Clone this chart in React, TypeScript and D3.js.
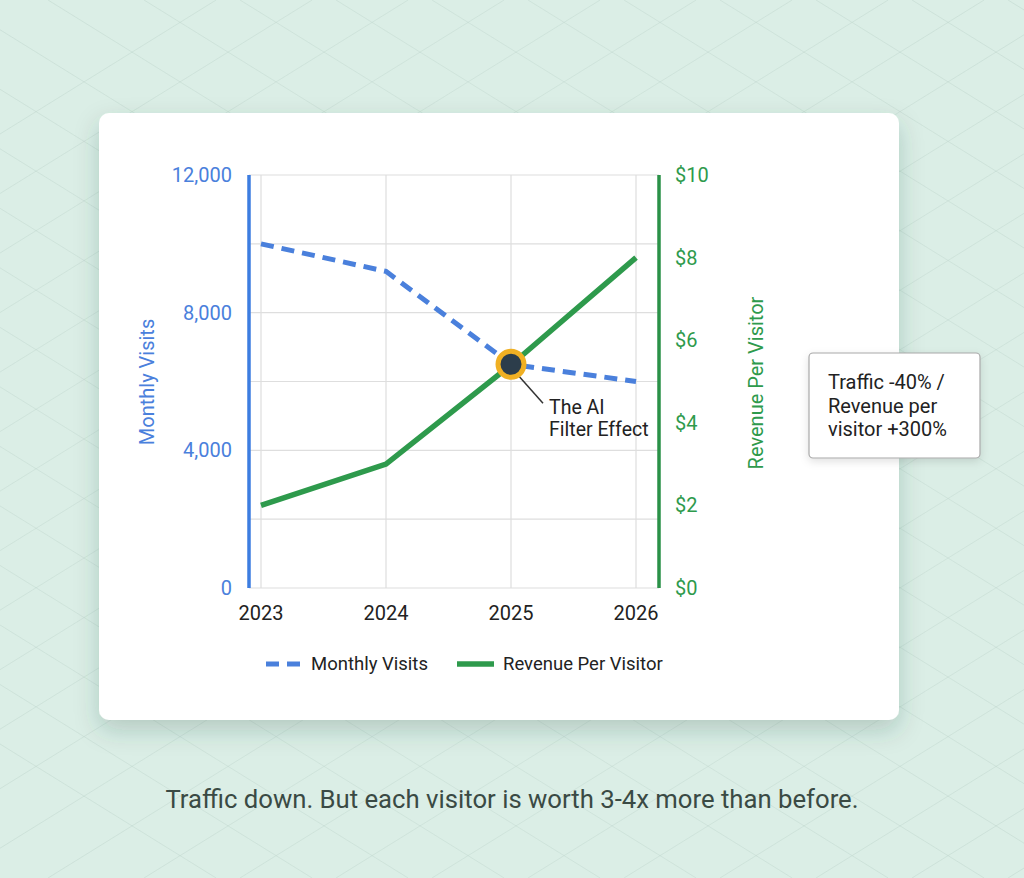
import * as d3 from "d3";

const years = ["2023", "2024", "2025", "2026"];
const monthlyVisits = [10000, 9200, 6500, 6000];
const revenuePerVisitor = [2, 3, 5.4, 8];
const visitTicks = [0, 4000, 8000, 12000];
const visitGrid = [0, 2000, 4000, 6000, 8000, 10000, 12000];
const revenueTicks = [0, 2, 4, 6, 8, 10];
const calloutLines = ["Traffic -40% /", "Revenue per", "visitor +300%"];
const annotationLines = ["The AI", "Filter Effect"];
const annotationYear = "2025";

const W = 1024;
const H = 878;
const FONT = "Roboto, 'Noto Sans', sans-serif";
const BLUE = "#4a80dc";
const BLUE_AXIS = "#3d7de0";
const GREEN = "#2e9a4c";
const GREEN_AXIS = "#2a9147";

const plot = { left: 249, right: 659, top: 175, bottom: 588 };

const x = d3.scalePoint<string>().domain(years).range([261, 636]);
const yLeft = d3.scaleLinear().domain([0, 12000]).range([plot.bottom, plot.top]);
const yRight = d3.scaleLinear().domain([0, 10]).range([plot.bottom, plot.top]);

const visitsLine = d3
  .line<number>()
  .x((_, i) => x(years[i]) as number)
  .y((d) => yLeft(d));
const revenueLine = d3
  .line<number>()
  .x((_, i) => x(years[i]) as number)
  .y((d) => yRight(d));

// faint diamond lattice in the background
const lattice: string[] = [];
for (let c = -1200; c < 1600; c += 96) {
  lattice.push(`M${c},0L${c + H / 0.62},${H}`);
  lattice.push(`M${c},${H}L${c + H / 0.62},0`);
}

const App = () => {
  const ai = years.indexOf(annotationYear);
  const cx = x(annotationYear) as number;
  const cy = yLeft(monthlyVisits[ai]);

  return (
    <div style={{ position: "absolute", left: 0, top: 0 }}>
      <svg width={W} height={H} style={{ display: "block", fontFamily: FONT }}>
        <defs>
          <filter id="cardShadow" x="-10%" y="-10%" width="120%" height="130%">
            <feDropShadow dx="0" dy="10" stdDeviation="12" floodColor="#2a4a40" floodOpacity="0.22" />
          </filter>
          <filter id="boxShadow" x="-10%" y="-10%" width="130%" height="140%">
            <feDropShadow dx="0" dy="3" stdDeviation="4" floodColor="#000" floodOpacity="0.12" />
          </filter>
          <radialGradient id="bgFade" cx="50%" cy="50%" r="70%">
            <stop offset="0%" stopColor="#fff" stopOpacity="0.5" />
            <stop offset="100%" stopColor="#fff" stopOpacity="0.9" />
          </radialGradient>
          <mask id="latticeMask">
            <rect width={W} height={H} fill="url(#bgFade)" />
          </mask>
        </defs>

        <rect width={W} height={H} fill="#dbeee6" />
        <g mask="url(#latticeMask)">
          {lattice.map((d, i) => (
            <path key={i} d={d} stroke="#a9c4ba" strokeWidth={0.8} opacity={0.4} fill="none" />
          ))}
        </g>

        {/* card */}
        <rect x={99} y={113} width={800} height={607} rx={10} fill="#fff" filter="url(#cardShadow)" />

        {/* grid */}
        {visitGrid.map((v) => (
          <line key={v} x1={plot.left} x2={plot.right} y1={yLeft(v)} y2={yLeft(v)} stroke="#dedede" strokeWidth={1.2} />
        ))}
        {years.map((yr) => (
          <line key={yr} x1={x(yr)} x2={x(yr)} y1={plot.top} y2={plot.bottom} stroke="#dedede" strokeWidth={1.2} />
        ))}

        {/* axes */}
        <line x1={plot.left} x2={plot.left} y1={plot.top} y2={plot.bottom} stroke={BLUE_AXIS} strokeWidth={3.5} />
        <line x1={plot.right} x2={plot.right} y1={plot.top} y2={plot.bottom} stroke={GREEN_AXIS} strokeWidth={3.5} />

        {visitTicks.map((v) => (
          <text key={v} x={232} y={yLeft(v)} dy="0.35em" textAnchor="end" fontSize={20} fill={BLUE}>
            {d3.format(",")(v)}
          </text>
        ))}
        {revenueTicks.map((v) => (
          <text key={v} x={675} y={yRight(v)} dy="0.35em" fontSize={20} fill={GREEN}>
            ${v}
          </text>
        ))}
        {years.map((yr) => (
          <text key={yr} x={x(yr)} y={620} textAnchor="middle" fontSize={20} fill="#222">
            {yr}
          </text>
        ))}

        <text transform="translate(154,382) rotate(-90)" textAnchor="middle" fontSize={20} fill={BLUE}>
          Monthly Visits
        </text>
        <text transform="translate(763,383) rotate(-90)" textAnchor="middle" fontSize={20} fill={GREEN}>
          Revenue Per Visitor
        </text>

        {/* series */}
        <path d={visitsLine(monthlyVisits) ?? undefined} fill="none" stroke={BLUE} strokeWidth={5} strokeDasharray="13 8" />
        <path d={revenueLine(revenuePerVisitor) ?? undefined} fill="none" stroke={GREEN} strokeWidth={5.5} />

        {/* annotation */}
        <line x1={cx + 8} y1={cy + 12} x2={cx + 32} y2={cy + 39} stroke="#333" strokeWidth={1.5} />
        <circle cx={cx} cy={cy} r={13} fill="#2c3d4b" stroke="#f0b023" strokeWidth={5} />
        {annotationLines.map((t, i) => (
          <text key={t} x={549} y={414 + i * 22} fontSize={19.5} fill="#222">
            {t}
          </text>
        ))}

        {/* legend */}
        <line x1={266} x2={300} y1={664} y2={664} stroke={BLUE} strokeWidth={5} strokeDasharray="13 8" />
        <text x={311} y={670} fontSize={18.5} fill="#222">
          Monthly Visits
        </text>
        <line x1={457} x2={494} y1={664} y2={664} stroke={GREEN} strokeWidth={5.5} />
        <text x={503} y={670} fontSize={18.5} fill="#222">
          Revenue Per Visitor
        </text>

        {/* callout */}
        <rect x={809} y={353} width={171} height={105} rx={4} fill="#fff" stroke="#a8a8a8" strokeWidth={1.2} filter="url(#boxShadow)" />
        {calloutLines.map((t, i) => (
          <text key={t} x={828} y={389 + i * 23.5} fontSize={20} fill="#222">
            {t}
          </text>
        ))}

        {/* caption */}
        <text x={512} y={808} textAnchor="middle" fontSize={25.7} fill="#3a4a44">
          Traffic down. But each visitor is worth 3-4x more than before.
        </text>
      </svg>
    </div>
  );
};

export default App;
